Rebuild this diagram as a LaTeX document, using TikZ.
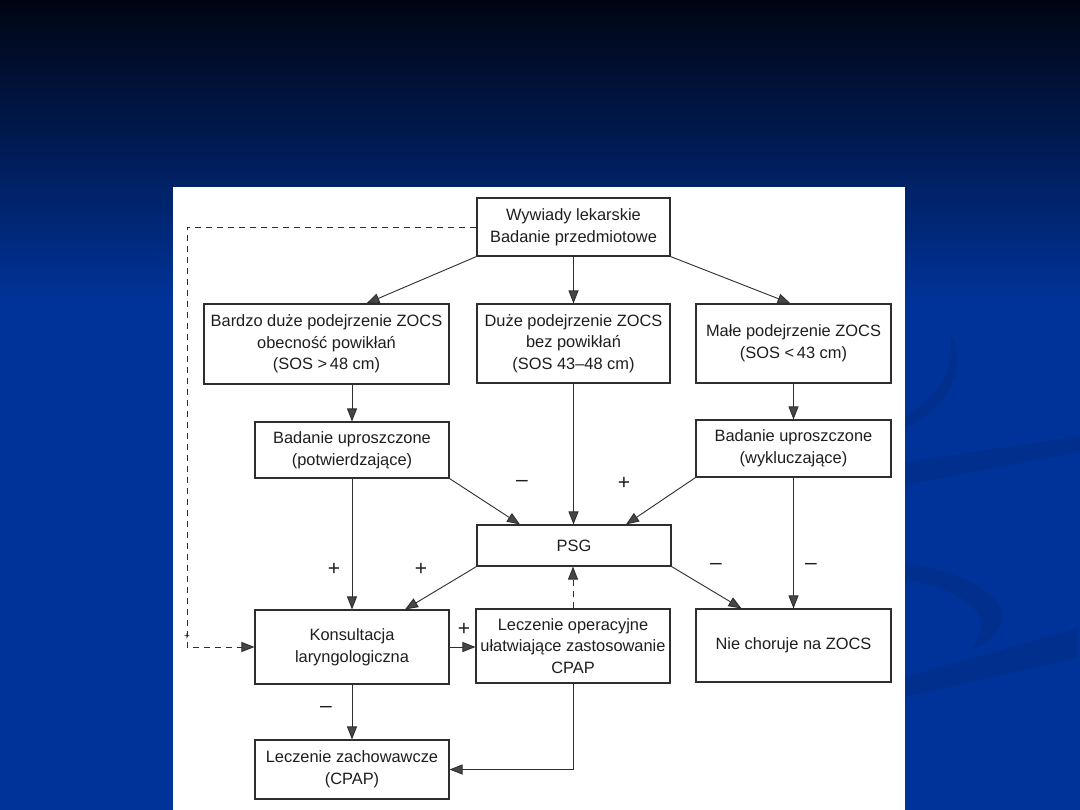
\documentclass[tikz,border=0pt]{standalone}
\usepackage{fontspec}
\setmainfont{Liberation Sans}
\usepackage{xcolor}
\usepackage{tikz}
\usetikzlibrary{arrows.meta, positioning, calc}
\definecolor{bgtop}{HTML}{000512}
\definecolor{bgblue}{HTML}{003399}
\definecolor{bgswoosh}{HTML}{002F8E}
\definecolor{fcline}{HTML}{2E2E2E}
\definecolor{fctip}{HTML}{4A4545}
\definecolor{fctext}{HTML}{1E1E1E}

\begin{document}
\begin{tikzpicture}[x=1pt, y=-1pt, font=\fontsize{16.4}{21.7}\selectfont,
        box/.style={draw=fcline, line width=1.1pt, fill=white, text=fctext, align=center,
          inner sep=0pt, minimum width=194pt},
        arr/.style={-{Triangle[length=13pt,width=10pt,fill=fctip]}, draw=fcline, line width=0.9pt},
        dasharr/.style={arr, dash pattern=on 6pt off 5pt},
        sign/.style={text=fctext, inner sep=0pt, font=\fontsize{21}{21}\selectfont}]
        \useasboundingbox (0,0) rectangle (1080,810);
        \shade[top color=bgtop, bottom color=bgblue] (0,0) rectangle (1080,300);
        \fill[bgblue] (0,299) rectangle (1080,810);
        \fill[bgswoosh] (950,333) .. controls (968,360) and (955,405) .. (905,428) -- (905,415) .. controls (945,395) and (955,360) .. (950,333) -- cycle;
        \fill[bgswoosh] (905,462) -- (1080,436) -- (1080,452) -- (905,485) -- cycle;
        \fill[bgswoosh] (905,563) .. controls (990,575) and (1040,620) .. (968,652) .. controls (1000,620) and (970,590) .. (905,580) -- cycle;
        \fill[bgswoosh] (905,677) -- (1078,628) -- (1078,658) -- (905,697) -- cycle;
        \fill[white] (173,187) rectangle (905,810);

        \node[box, minimum width=193pt, minimum height=58pt] (wyw) at (573.5,227) {Wywiady lekarskie\\Badanie przedmiotowe};
        \node[box, minimum width=245pt, minimum height=80pt] (bardzo) at (326.5,344) {Bardzo duże podejrzenie ZOCS\\obecność powikłań\\(SOS >\,48 cm)};
        \node[box, minimum width=193pt, minimum height=79pt] (duze) at (573.5,343.5) {Duże podejrzenie ZOCS\\bez powikłań\\(SOS 43--48 cm)};
        \node[box, minimum width=195pt, minimum height=79pt] (male) at (793.5,343.5) {Małe podejrzenie ZOCS\\(SOS <\,43 cm)};
        \node[box, minimum height=56pt] (potw) at (352,450) {Badanie uproszczone\\(potwierdzające)};
        \node[box, minimum width=195pt, minimum height=57pt] (wykl) at (793.5,448.5) {Badanie uproszczone\\(wykluczające)};
        \node[box, minimum height=41pt] (psg) at (574,545.5) {PSG};
        \node[box, minimum height=74pt] (kons) at (352,647) {Konsultacja\\laryngologiczna};
        \node[box, minimum height=74pt] (oper) at (573,646) {Leczenie operacyjne\\ułatwiające zastosowanie\\CPAP};
        \node[box, minimum width=195pt, minimum height=73pt] (nie) at (793.5,645.5) {Nie choruje na ZOCS};
        \node[box, minimum height=59pt] (zach) at (352,769.5) {Leczenie zachowawcze\\(CPAP)};
        \coordinate (back) at (187,450);

        \draw[arr] (wyw.south west) -- ([xshift=40pt]bardzo.north);
        \draw[arr] (wyw.south) -- (duze.north);
        \draw[arr] (wyw.south east) -- ([xshift=-3pt]male.north);
        \draw[arr] (potw.north |- bardzo.south) -- (potw.north);
        \draw[arr] (male.south -| wykl.north) -- (wykl.north);
        \draw[arr] (duze.south) -- (duze.south |- psg.north);
        \draw[arr] (potw.south east) -- ([xshift=-54pt]psg.north);
        \draw[arr] (wykl.south west) -- ([xshift=52pt]psg.north);
        \draw[arr] (wykl.south) -- (nie.north);
        \draw[arr] (psg.south east) -- ([xshift=-52pt]nie.north);
        \draw[arr] (psg.south west) -- ([xshift=53pt]kons.north);
        \draw[arr] (potw.south) -- (kons.north);
        \draw[arr] (kons.east) -- (kons.east -| oper.west);
        \draw[dasharr] (oper.north) -- (oper.north |- psg.south);
        \draw[arr] (kons.south) -- (zach.north);
        \draw[arr] (oper.south) |- (zach.east);
        \draw[dasharr] (wyw.west) -| (back) |- (kons.west);

        \node[sign] (s1) at (522,483) {--};
        \node[sign] (s2) at (624,483) {+};
        \node[sign] (s3) at (334,569) {+};
        \node[sign] (s4) at (421,569) {+};
        \node[sign] (s5) at (716,566) {--};
        \node[sign] (s6) at (811,566) {--};
        \node[sign] (s7) at (464,629) {+};
        \node[sign] (s8) at (326,709) {--};
        \node[sign, font=\fontsize{10}{10}\selectfont] (s9) at (187,637) {+};
      \end{tikzpicture}
\end{document}
